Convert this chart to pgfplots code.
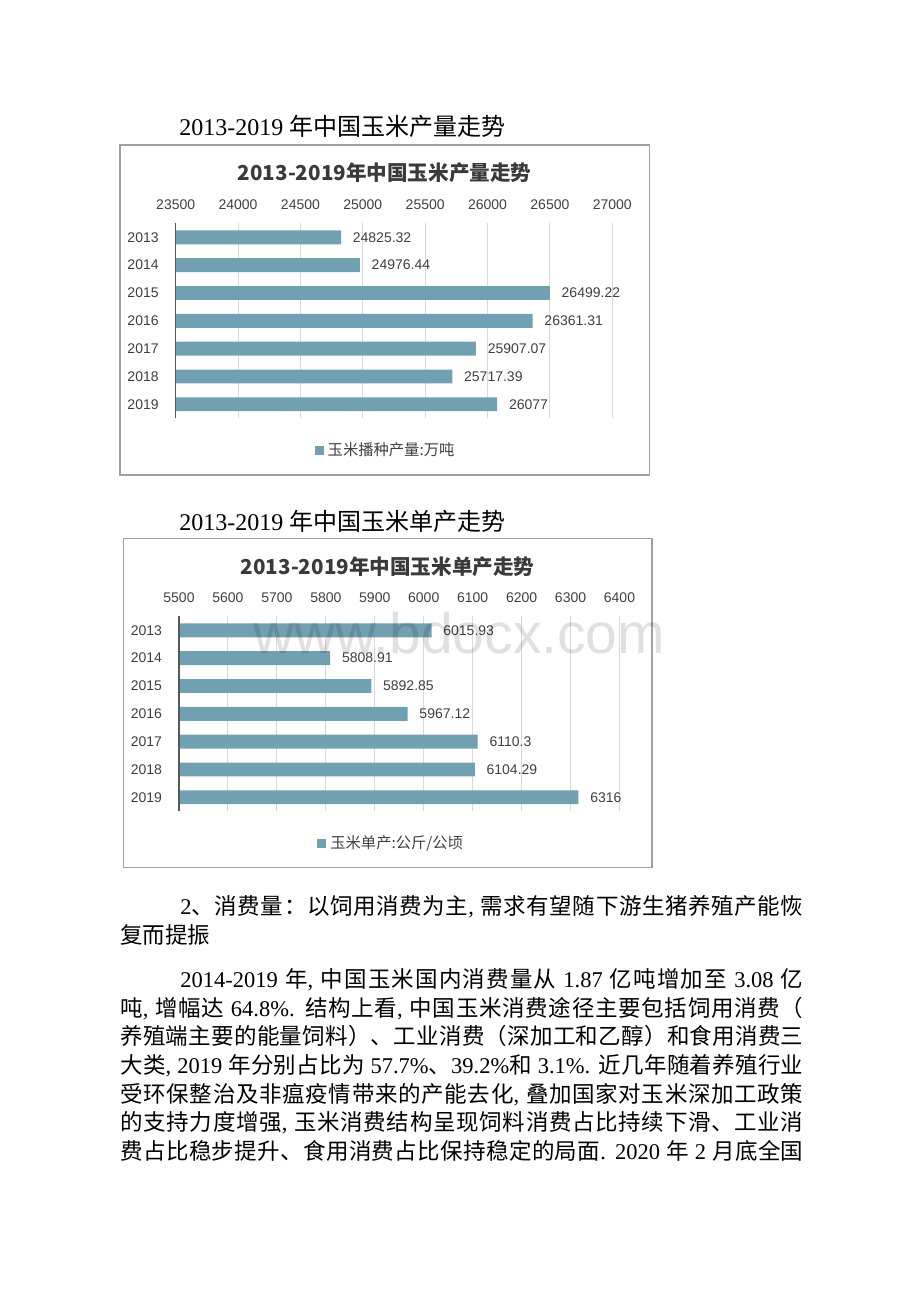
\documentclass[border=0pt]{standalone}
\usepackage{fontspec}
\usepackage{pgfplots}
\usepackage{pgfplotstable}
\pgfplotsset{compat=1.18}
\setmainfont{Liberation Serif}
\newfontfamily\cjk{Noto Sans CJK SC}
\newfontfamily\arial{Liberation Sans}
\definecolor{barc}{HTML}{72A0B3}
\definecolor{gridc}{HTML}{D9D9D9}
\definecolor{axisc}{HTML}{595959}
\definecolor{tickc}{HTML}{404040}
\definecolor{framec}{HTML}{A0A0A0}
\definecolor{titlec}{HTML}{3A3A3A}

\def\cjrest#1{\ifx\relax#1\else\hskip0pt plus1pt\relax#1\expandafter\cjrest\fi}
\def\cjfirst#1{#1\cjrest}
\newcommand\cj[1]{{\cjk\cjfirst#1\relax}}
\newcommand\bodyfont{\fontsize{11.25pt}{13pt}\selectfont}
\newcommand\headfont{\fontsize{12pt}{14pt}\selectfont}

\pgfplotstableread{
idx v
0 24825.32
1 24976.44
2 26499.22
3 26361.31
4 25907.07
5 25717.39
6 26077
}\prodtable
\pgfplotstableread{
idx v
0 6015.93
1 5808.91
2 5892.85
3 5967.12
4 6110.3
5 6104.29
6 6316
}\yieldtable

\pgfplotsset{
  barchart/.style={
    scale only axis, anchor=south west,
    height=97.4pt,
    ymin=-0.5, ymax=6.5, y dir=reverse,
    ytick={0,...,6}, yticklabels={2013,2014,2015,2016,2017,2018,2019},
    axis x line*=top, axis y line*=left,
    axis line style={draw=none},
    tick style={draw=none}, major tick length=0pt,
    xmajorgrids, grid style={gridc, line width=0.5pt},
    ticklabel style={font=\arial\fontsize{7}{8}\selectfont, text=tickc},
    xticklabel shift=3.5pt, yticklabel shift=5pt,
    clip=false,
    legend style={draw=none, fill=none, font=\cjk\fontsize{7.65}{9}\selectfont, text=tickc, anchor=center, inner sep=0pt},
  },
  barplot/.style={xbar, bar width=6.95pt, bar shift=0pt, fill=barc, draw=none,
    nodes near coords={\pgfplotspointmeta}, point meta=explicit symbolic,
    nodes near coords style={font=\arial\fontsize{7}{8}\selectfont, text=tickc, anchor=west, xshift=2.4pt},
    legend image code/.code={\fill[barc] (0pt,-2.25pt) rectangle (4.5pt,2.25pt);}},
}

\begin{document}
\begin{tikzpicture}
\begin{scope}[x=0.5pt,y=-0.5pt]
\path[use as bounding box, fill=white] (0,0) rectangle (920,1302);
% headings
\node[anchor=base west, inner sep=0pt, font=\headfont] at (179,135.8) {2013-2019 \cj{年中国玉米产量走势}};
\node[anchor=base west, inner sep=0pt, font=\headfont] at (179,530.8) {2013-2019 \cj{年中国玉米单产走势}};
% frames
\draw[framec, line width=0.6pt] (120,145) rectangle (649.3,475);
\draw[framec, line width=0.6pt] (123.3,538.3) rectangle (652,867.7);
% chart titles
\node[font=\cjk\bfseries\fontsize{10.3}{12}\selectfont, text=titlec] at (384.7,172.3) {2013-2019年中国玉米产量走势};
\node[font=\cjk\bfseries\fontsize{10.3}{12}\selectfont, text=titlec] at (387.7,566.7) {2013-2019年中国玉米单产走势};
% body text
\begin{scope}[every node/.style={anchor=base west, inner sep=0pt, font=\bodyfont}]
\node at (180,914.5) {\makebox[311.5pt][s]{2\cj{、消费量：以饲用消费为主}, \cj{需求有望随下游生猪养殖产能恢}}};
\node at (120,943.5) {\cj{复而提振}};
\node at (180,987.8) {\makebox[311.5pt][s]{2014-2019 \cj{年}, \cj{中国玉米国内消费量从} 1.87 \cj{亿吨增加至} 3.08 \cj{亿}}};
\node at (120,1016.4) {\makebox[341.5pt][s]{\cj{吨}, \cj{增幅达} 64.8\%. \cj{结构上看}, \cj{中国玉米消费途径主要包括饲用消费（}}};
\node at (120,1044.9) {\makebox[341.5pt][s]{\cj{养殖端主要的能量饲料）、工业消费（深加工和乙醇）和食用消费三}}};
\node at (120,1073.5) {\makebox[341.5pt][s]{\cj{大类}, 2019 \cj{年分别占比为} 57.7\%\cj{、}39.2\%\cj{和} 3.1\%. \cj{近几年随着养殖行业}}};
\node at (120,1102.1) {\makebox[341.5pt][s]{\cj{受环保整治及非瘟疫情带来的产能去化}, \cj{叠加国家对玉米深加工政策}}};
\node at (120,1130.6) {\makebox[341.5pt][s]{\cj{的支持力度增强}, \cj{玉米消费结构呈现饲料消费占比持续下滑、工业消}}};
\node at (120,1159.2) {\makebox[341.5pt][s]{\cj{费占比稳步提升、食用消费占比保持稳定的局面}. 2020 \cj{年} 2 \cj{月底全国}}};
\end{scope}
\end{scope}

% chart 1
\begin{axis}[barchart,
  at={(87.85pt,-209.1pt)}, width=218.3pt,
  xmin=0, xmax=3500, xtick={0,500,...,3500},
  xticklabels={23500,24000,24500,25000,25500,26000,26500,27000},
  legend style={at={(0.483,-0.167)}}]
\addplot[barplot] table[x expr=\thisrow{v}-23500, y=idx, meta=v] {\prodtable};
\addlegendentry{玉米播种产量:万吨}
\draw[axisc, line width=0.6pt] (rel axis cs:0,0) -- (rel axis cs:0,1);
\end{axis}

% chart 2
\begin{axis}[barchart,
  at={(89.5pt,-405.6pt)}, width=220.25pt,
  xmin=0, xmax=900, xtick={0,100,...,900},
  xticklabels={5500,5600,5700,5800,5900,6000,6100,6200,6300,6400},
  legend style={at={(0.484,-0.165)}}]
\addplot[barplot] table[x expr=\thisrow{v}-5500, y=idx, meta=v] {\yieldtable};
\addlegendentry{玉米单产:公斤/公顷}
\draw[axisc, line width=0.6pt] (rel axis cs:0,0) -- (rel axis cs:0,1);
\end{axis}

% watermark
\begin{scope}[x=0.5pt,y=-0.5pt]
\node[anchor=base west, inner sep=0pt, font=\arial\fontsize{28.5}{30}\selectfont, text=black, text opacity=0.12] at (253,653) {www.bdocx.com};
\end{scope}
\end{tikzpicture}
\end{document}
